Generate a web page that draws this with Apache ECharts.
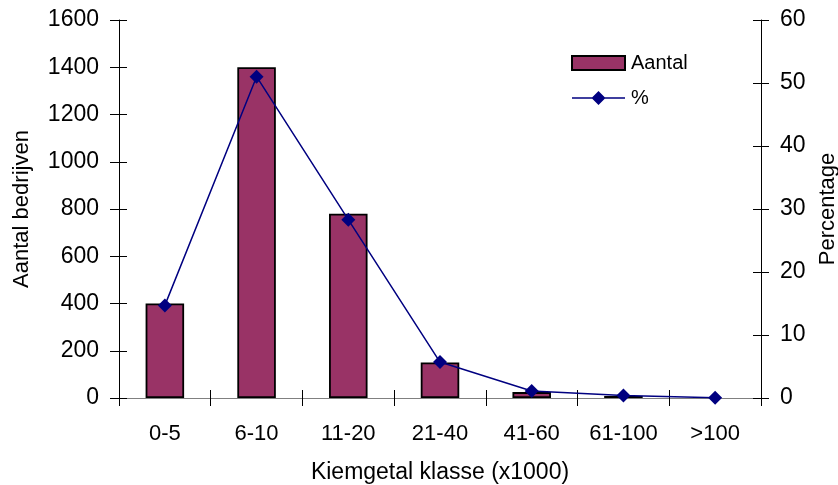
<!DOCTYPE html>
<html><head><meta charset="utf-8">
<script src="https://cdn.jsdelivr.net/npm/echarts@6/dist/echarts.min.js"></script>
<style>html,body{margin:0;padding:0;background:#fff}#c{width:838px;height:485px}</style>
</head><body><div id="c"></div>
<script>
const categories = ['0-5','6-10','11-20','21-40','41-60','61-100','>100'];
const aantal = [400, 1400, 780, 150, 25, 8, 0];
const percentage = [14.7, 51.0, 28.3, 5.7, 1.1, 0.4, 0.05];
const leftTicks = [0, 1600, 200];
const rightTicks = [0, 60, 10];

const FONT = 'Liberation Sans, Arial, sans-serif';
const chart = echarts.init(document.getElementById('c'));
const tickLbl = {color:'#000', fontFamily:FONT, fontSize:23, formatter:(v)=>String(v)};
const nameStyle = {color:'#000', fontFamily:FONT, fontSize:22};
const barData = aantal.map(v => v === 0 ? {value:v, itemStyle:{borderWidth:0}} : v);
chart.setOption({
  animation:false,
  grid:{left:119, right:77, top:20, bottom:87, outerBoundsMode:'none', containLabel:false},
  legend:{
    left:566, top:48, orient:'vertical', itemGap:15, itemWidth:53, itemHeight:14,
    textStyle:{color:'#000', fontFamily:FONT, fontSize:20, padding:[0,0,0,1]},
    data:[
      {name:'Aantal', icon:'rect'},
      {name:'%', icon:'path://M0,6.3H53V7.7H0Z M26.5,0L33.5,7L26.5,14L19.5,7Z'}
    ]
  },
  xAxis:[{
    type:'category', data:categories, boundaryGap:true,
    axisLine:{lineStyle:{color:'#808080', width:1}},
    axisTick:{show:true, interval:0, length:8, lineStyle:{color:'#000'}},
    axisLabel:{color:'#000', fontFamily:FONT, fontSize:22, margin:25, interval:0},
    name:'Kiemgetal klasse (x1000)', nameLocation:'middle', nameGap:63,
    nameTextStyle:{...nameStyle, fontSize:23}
  },{
    type:'category', data:categories, position:'bottom', boundaryGap:true,
    axisLine:{show:false}, axisLabel:{show:false},
    axisTick:{show:true, inside:true, interval:0, length:8, lineStyle:{color:'#000'}}
  }],
  yAxis:[{
    type:'value', min:leftTicks[0], max:leftTicks[1], interval:leftTicks[2], position:'left',
    axisLine:{show:true, lineStyle:{color:'#000'}},
    axisTick:{show:true, length:9, lineStyle:{color:'#000'}},
    splitLine:{show:false},
    axisLabel:{...tickLbl, margin:20},
    name:'Aantal bedrijven', nameLocation:'middle', nameGap:86, nameRotate:90,
    nameTextStyle:nameStyle
  },{
    type:'value', min:rightTicks[0], max:rightTicks[1], interval:rightTicks[2], position:'right',
    axisLine:{show:true, lineStyle:{color:'#000'}},
    axisTick:{show:true, length:8, lineStyle:{color:'#000'}},
    splitLine:{show:false},
    axisLabel:{...tickLbl, margin:19},
    name:'Percentage', nameLocation:'middle', nameGap:48, nameRotate:90,
    nameTextStyle:nameStyle
  },{
    type:'value', min:leftTicks[0], max:leftTicks[1], interval:leftTicks[2], position:'left',
    axisLine:{show:false}, axisLabel:{show:false}, splitLine:{show:false},
    axisTick:{show:true, inside:true, length:8, lineStyle:{color:'#000'}}
  },{
    type:'value', min:rightTicks[0], max:rightTicks[1], interval:rightTicks[2], position:'right',
    axisLine:{show:false}, axisLabel:{show:false}, splitLine:{show:false},
    axisTick:{show:true, inside:true, length:8, lineStyle:{color:'#000'}}
  }],
  series:[{
    name:'Aantal', type:'bar', data:barData, yAxisIndex:0, xAxisIndex:0, barWidth:'42%',
    itemStyle:{color:'#993366', borderColor:'#000', borderWidth:1.8}
  },{
    name:'%', type:'line', data:percentage, yAxisIndex:1, xAxisIndex:0,
    symbol:'diamond', symbolSize:14,
    lineStyle:{color:'#000080', width:1.5},
    itemStyle:{color:'#000080'}
  }]
});
</script></body></html>
